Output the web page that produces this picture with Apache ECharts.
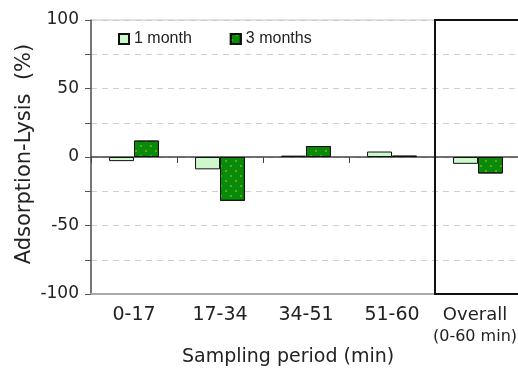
<!DOCTYPE html>
<html>
<head>
<meta charset="utf-8">
<script src="https://cdn.jsdelivr.net/npm/echarts@6/dist/echarts.min.js"></script>
<style>
  html, body { margin: 0; padding: 0; background: #fff; }
  #chart { width: 518px; height: 371px; }
</style>
</head>
<body>
<div id="chart"></div>
<script>
// data
const categories = ["0-17", "17-34", "34-51", "51-60", "Overall"];
const oneMonth = [-3, -9, 1, 4, -5];
const threeMonths = [12, -32, 8, 1, -12];
const yTicks = [-100, -50, 0, 50, 100];

const font = "DejaVu Sans";
const chart = echarts.init(document.getElementById("chart"));

const xName = {
  type: "text",
  left: 182, top: 348,
  style: { text: "Sampling period (min)", font: "19px " + font, fill: "#222" }
};
const yName = {
  type: "text",
  x: 25, y: 154,
  rotation: Math.PI / 2,
  style: {
    text: "Adsorption-Lysis  (%)", font: "21px " + font, fill: "#222",
    align: "center", verticalAlign: "middle"
  }
};

chart.setOption({
  animation: false,
  textStyle: { fontFamily: font },
  grid: {
    left: 91, top: 20, width: 430, height: 274,
    outerBoundsMode: "none",
    show: true, borderColor: "#c4c4c4", borderWidth: 1
  },
  legend: {
    left: 118, top: 31, padding: 0,
    icon: "rect",
    itemWidth: 10, itemHeight: 10, itemGap: 38,
    textStyle: { fontFamily: "Liberation Sans", fontSize: 16, color: "#222" },
    data: ["1 month", "3 months"]
  },
  xAxis: [
    {
      type: "category",
      data: categories,
      axisLine: { onZero: false, lineStyle: { color: "#aaa", width: 2 } },
      axisTick: { show: false },
      axisLabel: {
        interval: 0,
        margin: 10,
        fontSize: 19,
        color: "#222",
        lineHeight: 22,
        formatter: v => v === "Overall" ? "{a|Overall}\n{b|(0-60 min)}" : v,
        rich: {
          a: { fontSize: 18, color: "#222", fontFamily: font, lineHeight: 22, padding: [0, 6, 0, 0] },
          b: { fontSize: 16, color: "#222", fontFamily: font, lineHeight: 21, padding: [0, 6, 0, 0] }
        }
      }
    },
    {
      // zero line with the category ticks hanging from it
      type: "category",
      data: categories,
      position: "top",
      axisLine: { onZero: true, lineStyle: { color: "#444", width: 1.5 } },
      axisTick: { show: true, inside: true, length: 6, lineStyle: { color: "#444" } },
      axisLabel: { show: false }
    }
  ],
  yAxis: {
    type: "value",
    min: -100, max: 100, interval: 25,
    axisLine: { show: true, lineStyle: { color: "#555", width: 1.5 } },
    axisTick: { show: true, length: 6, lineStyle: { color: "#555" } },
    axisLabel: {
      fontSize: 17, color: "#222", margin: 12,
      formatter: v => yTicks.includes(v) ? String(v) : ""
    },
    splitLine: { show: true, lineStyle: { color: "#cfcfcf", type: [6, 5] } }
  },
  series: [
    {
      name: "1 month",
      type: "bar",
      data: oneMonth,
      barGap: "0%",
      barCategoryGap: "42%",
      itemStyle: { color: "#ccf8cc", borderColor: "#111", borderWidth: 1 }
    },
    {
      name: "3 months",
      type: "bar",
      data: threeMonths,
      itemStyle: {
        color: "#0a8a0a", borderColor: "#111", borderWidth: 1,
        decal: {
          symbol: "circle",
          symbolSize: 0.8,
          color: "#c8d800",
          dashArrayX: [[2, 8], [0, 5, 2, 3]],
          dashArrayY: [2, 3]
        }
      }
    }
  ],
  graphic: [xName, yName]
});

// box around the "Overall" group, placed through the axes
const p3 = chart.convertToPixel({ xAxisIndex: 0 }, categories[3]);
const p4 = chart.convertToPixel({ xAxisIndex: 0 }, categories[4]);
const yTop = chart.convertToPixel({ yAxisIndex: 0 }, 100);
const yBot = chart.convertToPixel({ yAxisIndex: 0 }, -100);
const boxLeft = (p3 + p4) / 2;
chart.setOption({
  graphic: [
    xName,
    yName,
    {
      type: "rect",
      shape: { x: boxLeft, y: yTop, width: (p4 - p3) * 2, height: yBot - yTop },
      style: { fill: "none", stroke: "#111", lineWidth: 2 },
      z: 10
    }
  ]
});
</script>
</body>
</html>
